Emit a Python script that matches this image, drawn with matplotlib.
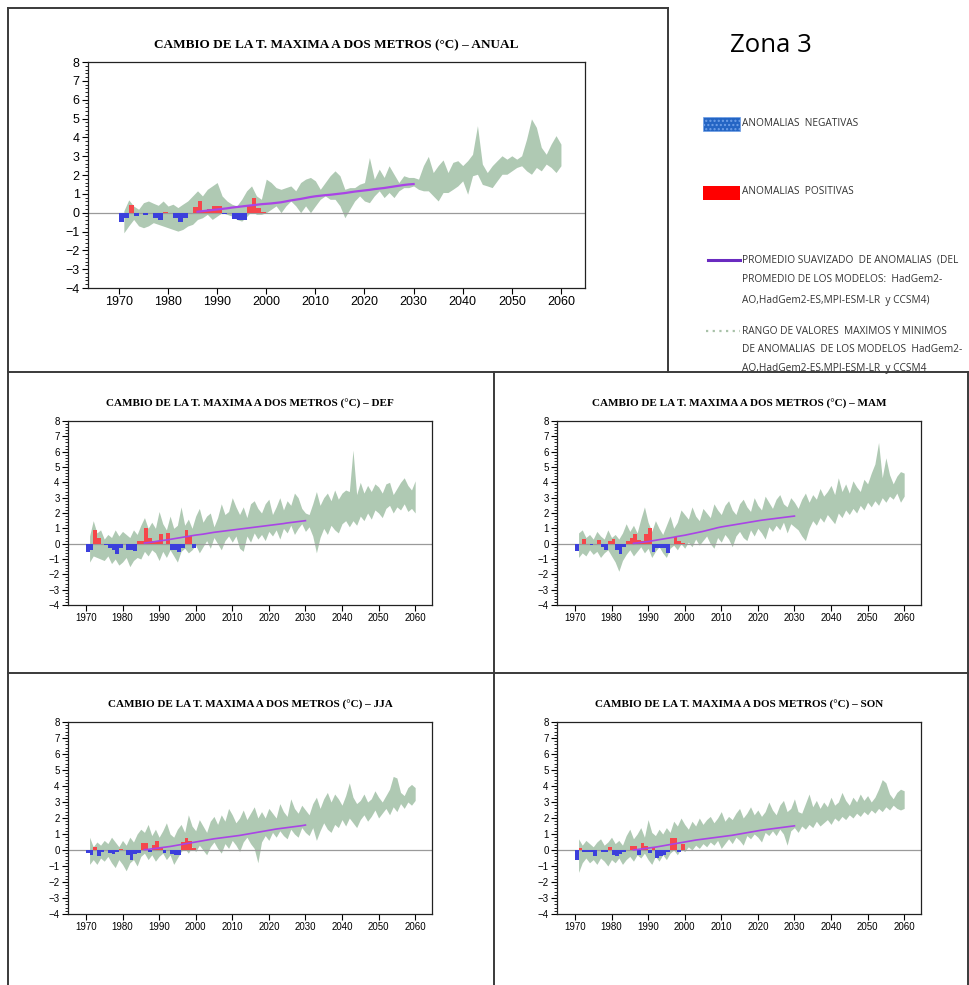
import numpy as np
import matplotlib
matplotlib.use('Agg')
import matplotlib.pyplot as plt
from matplotlib.lines import Line2D
from matplotlib.patches import Rectangle
from matplotlib.ticker import MultipleLocator

# ---- data ----
tick_years = [1970, 1980, 1990, 2000, 2010, 2020, 2030, 2040, 2050, 2060]
y_ticks = [-4, -3, -2, -1, 0, 1, 2, 3, 4, 5, 6, 7, 8]

# ANUAL
anual_anom = [-0.48, -0.27, 0.41, -0.18, 0.0, -0.12, 0.0, -0.27, -0.41, 0.02,
              0.0, -0.27, -0.48, -0.27, 0.0, 0.32, 0.64, 0.09, 0.21, 0.36,
              0.36, -0.05, 0.0, -0.36, -0.39, -0.41, 0.36, 0.8, 0.27, 0.05]
anual_upper = [0.1, 0.68, 0.35, 0.18, 0.53, 0.62, 0.5, 0.39, 0.62, 0.35,
               0.45, 0.27, 0.45, 0.62, 0.89, 1.16, 0.89, 1.24, 1.42, 1.6,
               0.89, 0.62, 0.45, 0.36, 0.71, 1.16, 1.42, 0.89, 0.71, 1.78,
               1.6, 1.33, 1.24, 1.33, 1.42, 1.16, 1.6, 1.78, 1.87, 1.69,
               1.24, 1.6, 1.96, 2.22, 1.96, 1.24, 1.33, 1.33, 1.51, 1.6,
               2.93, 1.78, 2.31, 1.87, 2.49, 2.04, 1.6, 1.96, 1.87, 1.87,
               1.78, 2.5, 2.99, 2.13, 2.5, 2.8, 2.13, 2.67, 2.76, 2.5,
               2.76, 3.1, 4.62, 2.58, 2.13, 2.49, 2.76, 3.02, 2.84, 3.02,
               2.84, 3.02, 3.9, 4.98, 4.53, 3.47, 3.1, 3.64, 4.09, 3.64]
anual_lower = [-1.07, -0.7, -0.36, -0.7, -0.8, -0.7, -0.53, -0.62, -0.71, -0.8,
               -0.89, -0.98, -0.89, -0.71, -0.62, -0.36, -0.27, -0.09, -0.36, -0.18,
               0.0, -0.09, -0.18, -0.36, -0.45, -0.21, 0.09, -0.09, -0.09, 0.0,
               0.18, 0.36, 0.0, 0.36, 0.62, 0.36, 0.0, 0.36, 0.0, 0.36,
               0.71, 0.89, 0.71, 0.71, 0.36, -0.27, 0.18, 0.62, 0.89, 0.62,
               0.53, 0.89, 1.16, 0.8, 1.07, 0.8, 1.16, 1.33, 1.33, 1.42,
               1.24, 1.16, 1.16, 0.89, 0.62, 1.07, 1.07, 1.24, 1.42, 1.69,
               0.98, 1.96, 2.04, 1.5, 1.42, 1.33, 1.69, 2.04, 2.04, 2.22,
               2.4, 2.49, 2.22, 2.04, 2.4, 2.22, 2.58, 2.4, 2.13, 2.49]
anual_smooth = [0.05, 0.08, 0.11, 0.14, 0.17, 0.2, 0.23, 0.27, 0.3, 0.33,
                0.36, 0.39, 0.42, 0.45, 0.47, 0.49, 0.52, 0.55, 0.6, 0.65,
                0.69, 0.73, 0.78, 0.83, 0.87, 0.9, 0.93, 0.95, 0.98, 1.01,
                1.04, 1.08, 1.12, 1.15, 1.18, 1.21, 1.25, 1.28, 1.31, 1.35,
                1.39, 1.43, 1.47, 1.5, 1.52]

# DEF
def_anom = [-0.55, -0.4, 0.87, 0.35, 0.0, -0.1, -0.25, -0.4, -0.65, -0.3,
            0.0, -0.4, -0.4, -0.5, 0.2, 0.2, 1.0, 0.35, 0.2, 0.2,
            0.6, -0.05, 0.7, -0.4, -0.4, -0.55, -0.25, 0.87, 0.5, -0.25]
def_upper = [0.5, 1.5, 0.7, 0.9, 0.3, 0.6, 0.4, 0.9, 0.5, 0.8,
             0.6, 0.4, 0.9, 0.6, 1.2, 1.7, 1.0, 1.4, 1.0, 2.1,
             1.3, 0.9, 1.8, 1.0, 1.2, 2.4, 1.2, 1.6, 1.0, 1.8,
             2.3, 1.4, 1.8, 2.0, 1.1, 1.7, 2.6, 1.9, 2.1, 3.0,
             2.4, 1.9, 2.4, 1.7, 2.6, 2.8, 2.3, 2.0, 2.6, 2.9,
             1.9, 2.4, 3.0, 2.2, 2.8, 2.5, 3.3, 3.0, 2.3, 2.0,
             1.9, 2.6, 3.4, 2.5, 3.0, 3.3, 2.8, 3.5, 2.9, 3.3,
             3.5, 3.4, 6.1, 3.2, 4.0, 3.3, 3.8, 3.4, 3.9, 3.7,
             3.3, 3.9, 4.0, 3.2, 3.6, 4.0, 4.3, 3.8, 3.5, 4.1]
def_lower = [-1.2, -0.8, -0.9, -1.0, -1.1, -0.8, -1.3, -1.0, -1.4, -1.2,
             -0.9, -1.5, -1.1, -0.9, -1.0, -0.5, -0.8, -0.4, -0.6, -1.1,
             -0.5, -0.9, -0.4, -0.8, -1.2, -0.5, -0.3, -0.6, -0.4, -0.1,
             -0.6, -0.2, 0.2, -0.3, 0.4, 0.0, -0.4, 0.2, 0.5, 0.1,
             0.5, -0.3, -0.5, 0.5, 0.1, 0.7, 0.3, 0.6, 0.2, 0.8,
             0.5, 0.9, 0.3, 1.0, 0.7, 1.2, 0.6, 1.0, 1.3, 0.8,
             1.1, 0.5, -0.6, 0.4, 1.0, 0.6, 1.2, 0.9, 0.7, 1.3,
             1.5, 1.1, 1.5, 1.2, 1.8, 1.5, 2.0, 1.6, 2.2, 2.0,
             1.7, 2.3, 2.5, 2.0, 2.4, 2.2, 2.6, 2.1, 2.3, 2.0]
def_smooth = [0.04, 0.07, 0.10, 0.14, 0.18, 0.21, 0.24, 0.28, 0.32, 0.36,
              0.40, 0.44, 0.48, 0.52, 0.56, 0.59, 0.62, 0.66, 0.70, 0.74,
              0.77, 0.80, 0.83, 0.86, 0.89, 0.92, 0.95, 0.98, 1.01, 1.04,
              1.07, 1.10, 1.13, 1.16, 1.19, 1.22, 1.25, 1.28, 1.31, 1.35,
              1.38, 1.41, 1.44, 1.47, 1.50]

# MAM
mam_anom = [-0.5, 0.0, 0.3, -0.05, -0.1, 0.0, 0.25, -0.2, -0.4, 0.15,
            0.3, -0.4, -0.7, -0.2, 0.15, 0.4, 0.6, 0.25, 0.2, 0.6,
            1.05, -0.55, -0.25, -0.25, -0.3, -0.6, 0.0, 0.45, 0.15, 0.05]
mam_upper = [0.7, 0.9, 0.4, 0.6, 0.3, 0.8, 0.5, 0.3, 0.9, 0.4,
             0.6, 0.3, 0.7, 1.3, 0.8, 1.2, 0.7, 1.6, 2.4, 1.4,
             0.8, 1.5, 1.0, 0.6, 1.2, 1.8, 1.0, 1.4, 2.2, 1.9,
             1.6, 2.4, 1.8, 1.5, 2.3, 2.0, 1.7, 2.6, 2.2, 1.9,
             2.5, 2.8, 2.2, 1.9, 2.6, 2.9, 2.4, 2.1, 3.0, 2.5,
             2.2, 3.1, 2.7, 2.3, 2.9, 3.2, 2.6, 2.4, 3.0, 2.7,
             2.3, 2.9, 3.3, 2.7, 3.2, 2.9, 3.6, 3.1, 3.4, 3.8,
             3.2, 4.3, 3.4, 3.9, 3.3, 4.1, 3.7, 3.4, 4.2, 3.9,
             4.6, 5.2, 6.6, 4.3, 5.6, 4.5, 3.9, 4.4, 4.7, 4.6]
mam_lower = [-0.9, -0.6, -0.8, -0.4, -0.7, -0.5, -0.9, -0.6, -0.4, -0.8,
             -1.2, -1.8, -1.1, -0.7, -0.4, -0.8, -0.5, -0.2, -0.6, -0.3,
             -0.9, -0.5, -0.2, -0.6, -0.9, -0.3, -0.1, -0.4, 0.0, -0.3,
             0.1, -0.2, 0.3, -0.1, 0.2, 0.5, 0.0, -0.3, 0.4, 0.1,
             0.6, 0.3, -0.2, 0.5, 0.8, 0.4, 0.2, 0.9, 0.5, 1.0,
             0.7, 0.3, 1.1, 0.8, 1.2, 0.9, 1.4, 0.7, 1.3, 1.1,
             0.9, 0.5, 0.2, 1.0, 1.5, 1.2, 1.7, 1.4, 1.9, 1.6,
             1.3, 2.0, 1.7, 2.2, 1.9, 2.3, 2.0, 2.5, 2.2, 2.7,
             2.4, 2.8, 2.5, 3.0, 2.7, 3.1, 2.9, 3.3, 2.7, 3.1]
mam_smooth = [0.02, 0.05, 0.08, 0.11, 0.14, 0.18, 0.22, 0.26, 0.30, 0.34,
              0.38, 0.42, 0.47, 0.51, 0.55, 0.60, 0.65, 0.70, 0.75, 0.80,
              0.86, 0.92, 0.98, 1.04, 1.09, 1.13, 1.17, 1.21, 1.25, 1.29,
              1.33, 1.37, 1.41, 1.45, 1.49, 1.53, 1.56, 1.59, 1.62, 1.65,
              1.68, 1.71, 1.74, 1.77, 1.80]

# JJA
jja_anom = [-0.2, -0.3, 0.2, -0.4, -0.15, 0.0, -0.2, -0.25, -0.1, 0.05,
            0.0, -0.3, -0.6, -0.25, -0.2, 0.45, 0.45, -0.1, 0.3, 0.55,
            0.1, -0.2, 0.0, -0.25, -0.3, -0.3, 0.5, 0.75, 0.55, 0.1]
jja_upper = [0.8, 0.2, 0.5, 0.3, 0.6, 0.4, 0.8, 0.5, 0.2, 0.6,
             0.3, 0.8, 0.5, 1.0, 1.3, 1.1, 1.6, 0.9, 1.3, 0.8,
             1.2, 1.7, 1.0, 0.8, 1.3, 1.6, 1.1, 2.2, 1.5, 1.2,
             1.9, 1.5, 1.1, 1.8, 2.1, 1.6, 2.2, 1.8, 2.6, 2.2,
             1.7, 2.0, 2.5, 1.9, 2.3, 2.7, 2.0, 2.4, 2.0, 2.6,
             2.3, 2.0, 2.9, 2.4, 2.1, 3.2, 2.6, 2.3, 2.8, 2.5,
             2.2, 2.9, 3.3, 2.6, 3.2, 3.6, 3.0, 3.5, 3.2, 2.8,
             3.4, 4.2, 3.3, 2.9, 3.1, 3.5, 3.0, 3.2, 3.7, 3.3,
             3.0, 3.4, 3.8, 4.6, 4.5, 3.6, 3.4, 3.9, 4.1, 3.9]
jja_lower = [-0.9, -0.6, -0.9, -0.5, -0.7, -0.4, -0.8, -1.1, -0.6, -0.9,
             -1.3, -0.8, -0.6, -1.0, -0.4, -0.2, -0.6, -0.3, -0.7, -0.4,
             -0.2, -0.6, -0.3, -0.9, -0.5, -0.1, 0.1, -0.2, 0.2, -0.1,
             0.3, 0.0, -0.3, 0.2, 0.5, 0.1, -0.2, 0.4, 0.1, 0.6,
             0.3, -0.1, 0.5, 0.8, 0.4, 0.1, -0.8, 0.5, 0.9, 0.6,
             1.1, 0.8, 1.2, 0.9, 0.7, 1.3, 1.0, 0.8, 1.4, 1.1,
             0.9, 1.4, 0.6, 1.2, 1.7, 1.3, 1.1, 1.6, 1.4, 1.9,
             1.5, 2.0, 1.7, 1.4, 1.9, 2.2, 1.8, 2.1, 2.5, 2.0,
             2.3, 2.6, 2.2, 2.7, 2.4, 2.9, 2.6, 3.0, 2.8, 3.1]
jja_smooth = [0.02, 0.04, 0.07, 0.10, 0.13, 0.16, 0.19, 0.22, 0.26, 0.30,
              0.34, 0.38, 0.42, 0.46, 0.50, 0.54, 0.58, 0.62, 0.66, 0.70,
              0.73, 0.76, 0.79, 0.82, 0.85, 0.88, 0.91, 0.95, 0.99, 1.03,
              1.07, 1.11, 1.15, 1.19, 1.23, 1.27, 1.31, 1.34, 1.37, 1.40,
              1.43, 1.46, 1.49, 1.52, 1.56]

# SON
son_anom = [-0.6, 0.15, -0.1, -0.15, -0.1, -0.35, 0.0, -0.1, -0.15, 0.2,
            -0.3, -0.35, -0.25, -0.15, 0.0, 0.25, 0.25, -0.3, 0.45, 0.25,
            -0.2, 0.15, -0.5, -0.35, -0.3, -0.15, 0.75, 0.75, -0.1, 0.4]
son_upper = [0.7, 0.3, 0.6, 0.4, 0.2, 0.5, 0.7, 0.3, 0.5, 0.8,
             0.4, 0.6, 0.3, 0.9, 1.3, 0.7, 1.0, 1.4, 0.8, 1.9,
             1.1, 0.9, 1.3, 1.0, 1.4, 1.1, 1.8, 1.5, 2.0, 1.6,
             1.3, 1.8, 1.5, 2.0, 1.6, 1.9, 2.1, 1.7, 2.0, 2.4,
             1.8, 2.1, 1.9, 2.3, 2.6, 2.0, 2.3, 2.7, 2.2, 2.5,
             2.1, 2.4, 3.0, 2.5, 2.2, 2.8, 3.1, 2.4, 2.6, 3.2,
             2.4, 2.3, 2.9, 3.5, 2.7, 3.1, 2.6, 3.0, 2.7, 3.3,
             2.8, 3.0, 3.6, 3.1, 2.8, 3.3, 3.0, 3.5, 3.1, 3.4,
             3.0, 3.3, 3.8, 4.4, 4.2, 3.5, 3.2, 3.6, 3.8, 3.7]
son_lower = [-1.4, -0.8, -0.5, -0.8, -0.6, -0.9, -0.5, -0.7, -1.0, -0.6,
             -0.8, -0.5, -0.9, -0.6, -0.4, -0.7, -0.3, -0.5, -0.2, -0.6,
             -0.9, -0.4, -0.7, -0.3, -0.6, -0.2, 0.0, -0.3, 0.1, -0.1,
             0.2, 0.0, 0.3, 0.1, 0.4, 0.2, 0.5, 0.3, 0.6, 0.1,
             0.4, 0.7, 0.4, 0.8, 0.6, 0.3, 0.9, 0.7, 1.0, 0.8,
             0.5, 1.1, 0.9, 1.2, 0.9, 1.3, 1.0, 0.3, 1.2, 1.4,
             1.1, 1.5, 1.3, 1.6, 1.4, 1.8, 1.5, 1.7, 1.9, 1.6,
             2.0, 1.8, 2.1, 1.9, 2.2, 2.0, 2.3, 2.1, 2.4, 2.2,
             2.5, 2.3, 2.6, 2.4, 2.7, 2.5, 2.8, 2.6, 2.5, 2.6]
son_smooth = [0.00, 0.03, 0.06, 0.09, 0.12, 0.15, 0.18, 0.22, 0.26, 0.30,
              0.34, 0.38, 0.42, 0.46, 0.50, 0.54, 0.58, 0.62, 0.65, 0.68,
              0.71, 0.74, 0.77, 0.80, 0.83, 0.86, 0.89, 0.92, 0.96, 1.00,
              1.04, 1.08, 1.12, 1.16, 1.20, 1.24, 1.27, 1.30, 1.33, 1.36,
              1.39, 1.42, 1.45, 1.48, 1.51]

title_base = 'CAMBIO DE LA T. MAXIMA A DOS METROS (°C) – '

W, H = 970, 985
BAND = '#afc9b3'
RED = '#f5474b'
BLUE = '#3b3fdc'
PURPLE = '#a944e6'
FRAME = '#3a3a3a'


def px_rect(left, top, right, bottom):
    return [left / W, 1 - bottom / H, (right - left) / W, (bottom - top) / H]


def panel(fig, rect, xlim, season, anom, upper, lower, smooth,
          tsize, tpad, lsize, lw):
    ax = fig.add_axes(px_rect(*rect))
    yrs = np.arange(1971, 1971 + len(upper))
    ax.fill_between(yrs, lower, upper, color=BAND, lw=0, zorder=1)
    ax.axhline(0, color='#9a9a9a', lw=0.9, zorder=2)
    a = np.array(anom)
    ay = np.arange(1971, 1971 + len(a))
    cols = [RED if v > 0 else BLUE for v in a]
    ax.bar(ay, a, width=-1.0, align='edge', color=cols, lw=0, zorder=3)
    sy = np.arange(1986, 1986 + len(smooth))
    ax.plot(sy, smooth, color=PURPLE, lw=lw, zorder=4)
    ax.set_xlim(*xlim)
    ax.set_ylim(-4, 8)
    ax.set_xticks(tick_years)
    ax.set_yticks(y_ticks)
    ax.yaxis.set_minor_locator(MultipleLocator(0.2))
    ax.tick_params(axis='both', which='major', direction='out', length=4,
                   width=0.8, labelsize=lsize, pad=2)
    ax.tick_params(axis='y', which='minor', direction='out', length=2, width=0.6)
    for lab in ax.get_xticklabels() + ax.get_yticklabels():
        lab.set_family('Liberation Sans')
    for s in ax.spines.values():
        s.set_color('#222222')
        s.set_linewidth(0.9)
    ax.set_title(title_base + season, family='Liberation Serif', weight='bold',
                 fontsize=tsize, pad=tpad)
    return ax


fig = plt.figure(figsize=(W / 100, H / 100), dpi=100)

panel(fig, (88, 62, 585, 288), (1963.7, 2064.9), 'ANUAL', anual_anom,
      anual_upper, anual_lower, anual_smooth, 9.5, 10, 9, 1.6)
panel(fig, (68, 421, 432, 605), (1965.1, 2064.6), 'DEF', def_anom,
      def_upper, def_lower, def_smooth, 8, 10, 7, 1.2)
panel(fig, (557, 421, 921, 605), (1965.1, 2064.6), 'MAM', mam_anom,
      mam_upper, mam_lower, mam_smooth, 8, 10, 7, 1.2)
panel(fig, (68, 722, 432, 914), (1965.1, 2064.6), 'JJA', jja_anom,
      jja_upper, jja_lower, jja_smooth, 8, 10, 7, 1.2)
panel(fig, (557, 722, 921, 914), (1965.1, 2064.6), 'SON', son_anom,
      son_upper, son_lower, son_smooth, 8, 10, 7, 1.2)


# frame lines around the blocks
def fig_line(x0, y0, x1, y1):
    fig.add_artist(Line2D([x0 / W, x1 / W], [1 - y0 / H, 1 - y1 / H],
                          color=FRAME, lw=1.4, transform=fig.transFigure))


fig_line(8, 8, 668, 8)
fig_line(8, 8, 8, 985)
fig_line(668, 8, 668, 372)
fig_line(8, 372, 970, 372)
fig_line(494, 372, 494, 985)
fig_line(8, 673, 970, 673)
fig_line(968, 372, 968, 985)

# legend block
fig.text(730 / W, 1 - 46 / H, 'Zona 3', family='Open Sans', fontsize=18.5,
         va='center', ha='left')
leg_font = dict(family='Open Sans', fontsize=7.3, va='center', ha='left',
                color='#333333')
fig.add_artist(Rectangle((703 / W, 1 - 131 / H), 37 / W, 14 / H,
                         facecolor='#2465c4', edgecolor='#6fa0e8', hatch='....',
                         lw=0.5, transform=fig.transFigure))
fig.text(742 / W, 1 - 124 / H, 'ANOMALIAS  NEGATIVAS', **leg_font)
fig.add_artist(Rectangle((703 / W, 1 - 200 / H), 37 / W, 14 / H,
                         facecolor='#ff0000', edgecolor='none',
                         transform=fig.transFigure))
fig.text(742 / W, 1 - 192 / H, 'ANOMALIAS  POSITIVAS', **leg_font)
fig.add_artist(Line2D([708 / W, 740 / W], [1 - 260 / H, 1 - 260 / H],
                      color='#6a2bc0', lw=2.2, transform=fig.transFigure))
fig.text(742 / W, 1 - 260 / H, 'PROMEDIO SUAVIZADO  DE ANOMALIAS  (DEL', **leg_font)
fig.text(742 / W, 1 - 280 / H, 'PROMEDIO DE LOS MODELOS:  HadGem2-', **leg_font)
fig.text(742 / W, 1 - 300 / H, 'AO,HadGem2-ES,MPI-ESM-LR  y CCSM4)', **leg_font)
fig.add_artist(Line2D([706 / W, 740 / W], [1 - 331 / H, 1 - 331 / H],
                      color='#a9c2a9', lw=1.6, ls=(0, (1, 2)),
                      transform=fig.transFigure))
fig.text(742 / W, 1 - 331 / H, 'RANGO DE VALORES  MAXIMOS Y MINIMOS', **leg_font)
fig.text(742 / W, 1 - 350 / H, 'DE ANOMALIAS  DE LOS MODELOS  HadGem2-', **leg_font)
fig.text(742 / W, 1 - 368 / H, 'AO,HadGem2-ES,MPI-ESM-LR  y CCSM4', **leg_font)

fig.savefig('out.png', dpi=100, facecolor='white')
